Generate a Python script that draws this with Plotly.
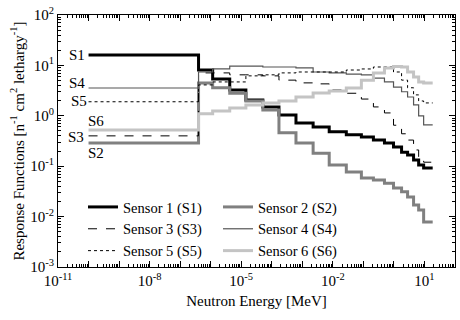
import plotly.graph_objects as go

# Energy group edges [MeV]
energy_edges = [1e-10, 4.0e-7, 1.16e-6, 4.2e-6, 1.42e-5, 5.1e-5, 1.72e-4, 6.2e-4,
                2.26e-3, 7.6e-3, 2.76e-2, 8.6e-2, 0.213, 0.49, 0.97, 1.78, 2.8,
                4.4, 6.45, 9.4, 18.6]

sensor_names = ["Sensor 1 (S1)", "Sensor 2 (S2)", "Sensor 3 (S3)",
                "Sensor 4 (S4)", "Sensor 5 (S5)", "Sensor 6 (S6)"]

s1 = [16.1, 8.1, 5.4, 3.25, 2.06, 1.50, 1.04, 0.72, 0.60, 0.48, 0.42, 0.38,
      0.33, 0.29, 0.24, 0.19, 0.167, 0.133, 0.106, 0.092]
s2 = [0.29, 4.5, 3.6, 2.8, 1.97, 1.30, 0.46, 0.29, 0.18, 0.106, 0.077, 0.058,
      0.053, 0.046, 0.037, 0.031, 0.0245, 0.017, 0.0135, 0.0078]
s3 = [0.40, 7.1, 7.1, 6.5, 6.5, 6.2, 5.1, 4.5, 4.3, 3.25, 2.8, 2.15,
      1.5, 1.14, 0.65, 0.44, 0.33, 0.21, 0.146, 0.12]
s4 = [3.56, 7.4, 8.5, 9.7, 9.7, 9.3, 9.3, 8.9, 7.4, 7.1, 6.7, 6.5,
      5.6, 4.7, 3.7, 3.0, 2.36, 1.64, 1.0, 0.66]
s5 = [1.9, 4.1, 4.7, 4.7, 6.2, 6.5, 7.1, 7.4, 7.4, 7.4, 8.1, 8.5,
      9.3, 9.3, 7.4, 5.1, 3.6, 2.6, 1.97, 1.8]
s6 = [0.52, 1.1, 1.25, 1.43, 1.64, 1.8, 1.97, 2.36, 2.83, 3.1, 3.56, 5.1,
      7.1, 8.9, 9.5, 9.3, 7.4, 5.9, 4.7, 4.5]

series = [s1, s2, s3, s4, s5, s6]
styles = [
    dict(color="#000000", width=3, dash="solid"),
    dict(color="#808080", width=3, dash="solid"),
    dict(color="#000000", width=1, dash="dash"),
    dict(color="#555555", width=1.2, dash="solid"),
    dict(color="#000000", width=1, dash="dot"),
    dict(color="#c4c4c4", width=3, dash="solid"),
]

label_text = ["S1", "S2", "S3", "S4", "S5", "S6"]
label_pos = [(67, 55), (86, 153), (66, 137), (67, 83), (69, 101), (86, 121)]

FONT = "Liberation Serif"

fig = go.Figure()
for name, vals, st in zip(sensor_names, series, styles):
    fig.add_trace(go.Scatter(
        x=energy_edges, y=vals + [vals[-1]], mode="lines", name=name,
        line=dict(shape="hv", **st)))

# plot area geometry
L, R, T, B = 58, 5, 15, 53
W, H = 460, 320
pw, ph = W - L - R, H - T - B

for txt, (px, py) in zip(label_text, label_pos):
    fig.add_annotation(x=(px - L) / pw, y=(H - B - py) / ph, xref="paper", yref="paper",
                       text=txt, showarrow=False, xanchor="left", yanchor="middle",
                       font=dict(family=FONT, size=15, color="black"))

x_major = [10.0 ** k for k in range(-11, 3)]
x_text = [("10<sup>%d</sup>" % k) if (k + 11) % 3 == 0 else "" for k in range(-11, 3)]
x_minor = [m * 10.0 ** k for k in range(-11, 2) for m in range(2, 10)]
y_major = [10.0 ** k for k in range(-3, 3)]
y_text = ["10<sup>%d</sup>" % k for k in range(-3, 3)]
y_minor = [m * 10.0 ** k for k in range(-3, 2) for m in range(2, 10)]

axis_common = dict(type="log", showline=True, linecolor="black", linewidth=1,
                   mirror="allticks", ticks="inside", ticklen=6, tickwidth=1,
                   tickcolor="black", showgrid=False, zeroline=False,
                   tickfont=dict(family=FONT, size=15, color="black"))

fig.update_xaxes(range=[-11, 2], tickmode="array", tickvals=x_major, ticktext=x_text,
                 minor=dict(tickmode="array", tickvals=x_minor, ticks="inside",
                            ticklen=3, tickcolor="black", showgrid=False),
                 title=dict(text="Neutron Energy [MeV]", font=dict(family=FONT, size=15, color="black"),
                            standoff=7),
                 **axis_common)
fig.update_yaxes(range=[-3, 2], tickmode="array", tickvals=y_major, ticktext=y_text,
                 minor=dict(tickmode="array", tickvals=y_minor, ticks="inside",
                            ticklen=3, tickcolor="black", showgrid=False),
                 title=dict(text="Response Functions [n<sup>-1</sup> cm<sup>2</sup> lethargy<sup>-1</sup>]",
                            font=dict(family=FONT, size=15, color="black"), standoff=2),
                 **axis_common)

fig.update_layout(
    width=W, height=H,
    margin=dict(l=L, r=R, t=T, b=B),
    paper_bgcolor="white", plot_bgcolor="white",
    font=dict(family=FONT, size=15, color="black"),
    legend=dict(orientation="h", x=(83 - L) / pw, y=(H - B - 191) / ph,
                xanchor="left", yanchor="top", entrywidth=90, entrywidthmode="pixels",
                bgcolor="rgba(0,0,0,0)", font=dict(family=FONT, size=14.5, color="black"),
                tracegroupgap=0, itemwidth=30),
    showlegend=True,
)

fig.write_html("out.html")
